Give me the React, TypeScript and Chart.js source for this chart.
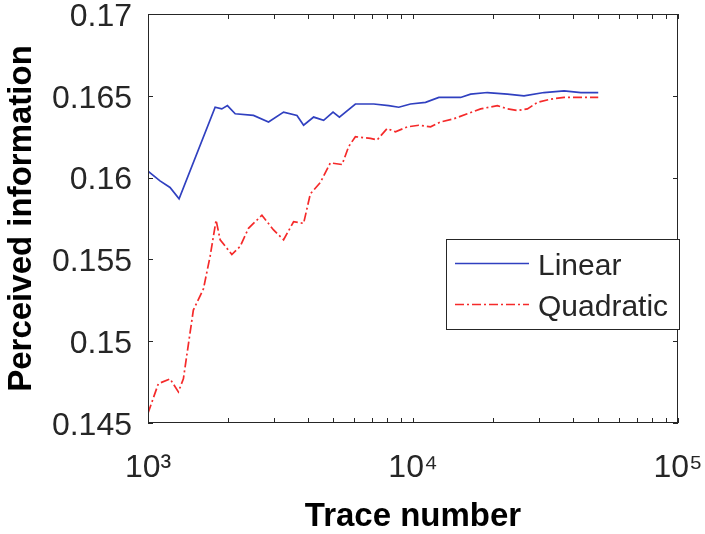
import React, { useEffect, useRef } from "react";
import { Chart, registerables } from "chart.js";

Chart.register(...registerables);

// ---- data ----
const linearX = [1000, 1110, 1211, 1310, 1792, 1899, 1994, 2133, 2501, 2850, 3248, 3649, 3865, 4217, 4600, 4992, 5275, 6062, 7108, 8098, 8837, 9784, 11150, 12520, 15120, 16500, 19080, 22710, 26230, 31220, 37170, 42990, 50000];
const linearY = [0.1604, 0.1598, 0.1594, 0.1587, 0.1643, 0.1642, 0.1644, 0.1639, 0.1638, 0.1634, 0.164, 0.1638, 0.1632, 0.1637, 0.1635, 0.164, 0.1637, 0.1645, 0.1645, 0.1644, 0.1643, 0.1645, 0.1646, 0.1649, 0.1649, 0.1651, 0.1652, 0.1651, 0.165, 0.1652, 0.1653, 0.1652, 0.1652];

const quadX = [1000, 1094, 1211, 1302, 1360, 1483, 1619, 1716, 1807, 1872, 2072, 2228, 2394, 2691, 2977, 3248, 3543, 3865, 4098, 4470, 4877, 5400, 5719, 6062, 6907, 7322, 7989, 8586, 9508, 10517, 11650, 12700, 14270, 16030, 18000, 20810, 22710, 24770, 27030, 29490, 33100, 37170, 42990, 50000];
const quadY = [0.1456, 0.1474, 0.1477, 0.1469, 0.1477, 0.1519, 0.1532, 0.1552, 0.1574, 0.1562, 0.1553, 0.1558, 0.1569, 0.1577, 0.1568, 0.1562, 0.1573, 0.1572, 0.159, 0.1597, 0.1609, 0.1608, 0.1619, 0.1625, 0.1624, 0.1623, 0.163, 0.1628, 0.1631, 0.1632, 0.1631, 0.1634, 0.1636, 0.1639, 0.1642, 0.1644, 0.1642, 0.1641, 0.1642, 0.1646, 0.1648, 0.1649, 0.1649, 0.1649];

const seriesNames = ["Linear", "Quadratic"];

const xTickValues = [1000, 2000, 3000, 4000, 5000, 6000, 7000, 8000, 9000, 10000, 20000, 30000, 40000, 50000, 60000, 70000, 80000, 90000, 100000];
const xMajorValues = [1000, 10000, 100000];
const xMajorLabels = ["10³", "10⁴", "10⁵"];

const yTickValues = [0.145, 0.15, 0.155, 0.16, 0.165, 0.17];
const yTickLabels = ["0.145", "0.15", "0.155", "0.16", "0.165", "0.17"];

const FONT = "'Liberation Sans', Arial, Helvetica, sans-serif";
const AXIS_COLOR = "#262626";

const boxAndTicks = {
  id: "boxAndTicks",
  afterDraw(chart: any) {
    const { ctx, chartArea } = chart;
    const { left, right, top, bottom } = chartArea;
    ctx.save();
    ctx.strokeStyle = AXIS_COLOR;
    ctx.lineWidth = 1;
    ctx.setLineDash([]);
    ctx.strokeRect(left + 0.5, top + 0.5, right - left - 1, bottom - top - 1);
    const len = 5;
    ctx.beginPath();
    const xs = chart.scales.x;
    xs.ticks.forEach((t: any) => {
      const px = Math.round(xs.getPixelForValue(t.value)) + 0.5;
      ctx.moveTo(px, bottom);
      ctx.lineTo(px, bottom - len);
      ctx.moveTo(px, top);
      ctx.lineTo(px, top + len);
    });
    const ys = chart.scales.y;
    ys.ticks.forEach((t: any) => {
      const py = Math.round(ys.getPixelForValue(t.value)) + 0.5;
      ctx.moveTo(left, py);
      ctx.lineTo(left + len, py);
      ctx.moveTo(right, py);
      ctx.lineTo(right - len, py);
    });
    ctx.stroke();
    ctx.restore();
  },
};

const boxedLegend = {
  id: "boxedLegend",
  afterDraw(chart: any) {
    const { ctx } = chart;
    const bx = 446, by = 239, bw = 233, bh = 90;
    ctx.save();
    ctx.fillStyle = "#ffffff";
    ctx.fillRect(bx, by, bw, bh);
    ctx.strokeStyle = AXIS_COLOR;
    ctx.lineWidth = 1;
    ctx.setLineDash([]);
    ctx.strokeRect(bx + 0.5, by + 0.5, bw, bh);
    const rows = [263.5, 304.5];
    chart.data.datasets.forEach((ds: any, i: number) => {
      const y = rows[i];
      ctx.strokeStyle = ds.borderColor;
      ctx.lineWidth = ds.borderWidth;
      ctx.setLineDash(ds.borderDash || []);
      ctx.beginPath();
      ctx.moveTo(455, y);
      ctx.lineTo(529, y);
      ctx.stroke();
      ctx.setLineDash([]);
      ctx.fillStyle = AXIS_COLOR;
      ctx.font = `30px ${FONT}`;
      ctx.textBaseline = "middle";
      ctx.textAlign = "left";
      ctx.fillText(ds.label, 538, y + 3);
    });
    ctx.restore();
  },
};

const zeroPad = (s: any) => {
  s.paddingTop = 0;
  s.paddingBottom = 0;
  s.paddingLeft = 0;
  s.paddingRight = 0;
};

export default function App() {
  const ref = useRef<HTMLCanvasElement | null>(null);

  useEffect(() => {
    if (!ref.current) return;
    const chart = new Chart(ref.current, {
      type: "line",
      data: {
        datasets: [
          {
            label: seriesNames[0],
            data: linearX.map((x, i) => ({ x, y: linearY[i] })),
            borderColor: "#3040c0",
            borderWidth: 1.7,
            pointRadius: 0,
            tension: 0,
            fill: false,
          },
          {
            label: seriesNames[1],
            data: quadX.map((x, i) => ({ x, y: quadY[i] })),
            borderColor: "#f52a2a",
            borderWidth: 1.7,
            borderDash: [9, 3, 2, 3],
            pointRadius: 0,
            tension: 0,
            fill: false,
          },
        ],
      },
      options: {
        responsive: false,
        animation: false,
        layout: { padding: { top: 14, right: 27, left: 0, bottom: 0 } },
        plugins: {
          legend: { display: false },
          tooltip: { enabled: false },
        },
        scales: {
          x: {
            type: "logarithmic",
            position: "bottom",
            min: 1000,
            max: 100000,
            grid: { display: false, drawTicks: false },
            border: { display: false },
            afterBuildTicks: (s: any) => {
              s.ticks = xTickValues.map((v) => ({ value: v }));
            },
            afterFit: (s: any) => {
              s.height = 111;
              zeroPad(s);
            },
            ticks: {
              autoSkip: false,
              maxRotation: 0,
              minRotation: 0,
              padding: 26,
              color: AXIS_COLOR,
              font: { family: FONT, size: 32 },
              callback: (v: any) => {
                const k = xMajorValues.indexOf(Number(v));
                return k >= 0 ? xMajorLabels[k] : "";
              },
            },
            title: {
              display: true,
              text: "Trace number",
              color: "#000",
              font: { family: FONT, size: 33, weight: "bold", lineHeight: 1 },
              padding: { top: 0, bottom: 1 },
            },
          },
          y: {
            type: "linear",
            min: 0.145,
            max: 0.17,
            grid: { display: false, drawTicks: false },
            border: { display: false },
            afterBuildTicks: (s: any) => {
              s.ticks = yTickValues.map((v) => ({ value: v }));
            },
            afterFit: (s: any) => {
              s.width = 148;
              zeroPad(s);
            },
            ticks: {
              padding: 16,
              labelOffset: 3,
              color: AXIS_COLOR,
              font: { family: FONT, size: 32 },
              callback: (v: any, i: number) => yTickLabels[i],
            },
            title: {
              display: true,
              text: "Perceived information",
              color: "#000",
              font: { family: FONT, size: 33, weight: "bold", lineHeight: 1.2 },
              padding: { top: 2, bottom: 0 },
            },
          },
        },
      },
      plugins: [boxAndTicks, boxedLegend],
    } as any);
    return () => chart.destroy();
  }, []);

  return (
    <div style={{ position: "fixed", left: 0, top: 0, width: 705, height: 534, background: "#fff" }}>
      <canvas ref={ref} width={705} height={534} style={{ width: 705, height: 534 }} />
    </div>
  );
}
